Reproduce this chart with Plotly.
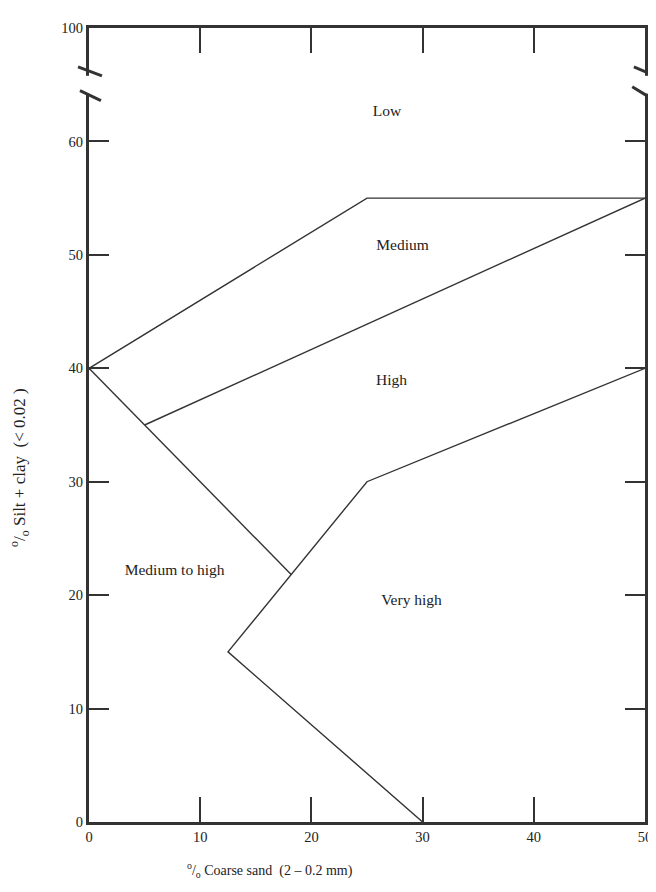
import plotly.graph_objects as go

# Boundary lines (x = % coarse sand, y = % silt + clay)
low_medium_x = [0, 25, 50]
low_medium_y = [40, 55, 55]
medium_high_x = [5, 50]
medium_high_y = [35, 55]
diag_x = [0, 18.2]
diag_y = [40, 21.8]
high_vhigh_x = [50, 25, 12.5, 30]
high_vhigh_y = [40, 30, 15, 0]

region_names = ["Low", "Medium", "High", "Medium to high", "Very high"]
region_x = [26.8, 28.2, 27.2, 7.7, 29.0]
region_y = [62.6, 50.8, 38.9, 22.1, 19.5]

x_ticks = [0, 10, 20, 30, 40, 50]
x_ticklabels = ["0", "10", "20", "30", "40", "50"]
y_ticks = [0, 10, 20, 30, 40, 50, 60, 70]
y_ticklabels = ["0", "10", "20", "30", "40", "50", "60", "100"]

LC = "#333333"
FONT = "Liberation Serif"

fig = go.Figure()
for xs, ys in [(low_medium_x, low_medium_y), (medium_high_x, medium_high_y),
               (diag_x, diag_y), (high_vhigh_x, high_vhigh_y)]:
    fig.add_trace(go.Scatter(x=xs, y=ys, mode="lines",
                             line=dict(color=LC, width=1.4),
                             showlegend=False, hoverinfo="skip"))

fig.add_trace(go.Scatter(x=region_x, y=region_y, mode="text", text=region_names,
                         textfont=dict(family=FONT, size=15.5, color="#222"),
                         showlegend=False, hoverinfo="skip"))

axis_common = dict(showgrid=False, zeroline=False, showline=True, linecolor=LC,
                   linewidth=3, mirror="ticks", ticks="inside", tickcolor=LC,
                   tickwidth=1.6, tickfont=dict(family=FONT, size=14.5, color="#222"))

fig.update_xaxes(range=[0, 50], tickvals=x_ticks, ticktext=x_ticklabels,
                 ticklen=25, **axis_common)
fig.update_yaxes(range=[0, 70], tickvals=y_ticks, ticktext=y_ticklabels,
                 ticklen=20, **axis_common)

shapes = []
# gaps in the vertical axes (axis break)
for xc in [0, 1]:
    shapes.append(dict(type="rect", xref="paper", yref="paper",
                       x0=xc - 0.012, x1=xc + 0.012, y0=0.9173, y1=0.9398,
                       fillcolor="white", line=dict(width=0), layer="above"))
# break marks
marks = [(-0.0197, 0.951, 0.0233, 0.9398), (-0.0162, 0.921, 0.0215, 0.9085),
         (0.980, 0.951, 1.018, 0.9398), (0.977, 0.926, 1.018, 0.9085)]
for x0, y0, x1, y1 in marks:
    shapes.append(dict(type="line", xref="paper", yref="paper",
                       x0=x0, y0=y0, x1=x1, y1=y1,
                       line=dict(color=LC, width=3), layer="above"))

annotations = [
    dict(text="<sup>o</sup>/<sub>o</sub> Coarse sand  (2 – 0.2 mm)", xref="paper", yref="paper",
         x=0.325, y=-0.060, xanchor="center", yanchor="middle", showarrow=False,
         font=dict(family=FONT, size=14, color="#222")),
    dict(text="<sup>o</sup>/<sub>o</sub> Silt + clay  (< 0.02 )", xref="paper", yref="paper",
         x=-0.124, y=0.446, xanchor="center", yanchor="middle", showarrow=False,
         textangle=-90, font=dict(family=FONT, size=17, color="#222")),
]

fig.update_layout(width=656, height=892, plot_bgcolor="white", paper_bgcolor="white",
                  margin=dict(l=81, r=18, t=16, b=78), shapes=shapes,
                  annotations=annotations)

fig.write_html("out.html")
